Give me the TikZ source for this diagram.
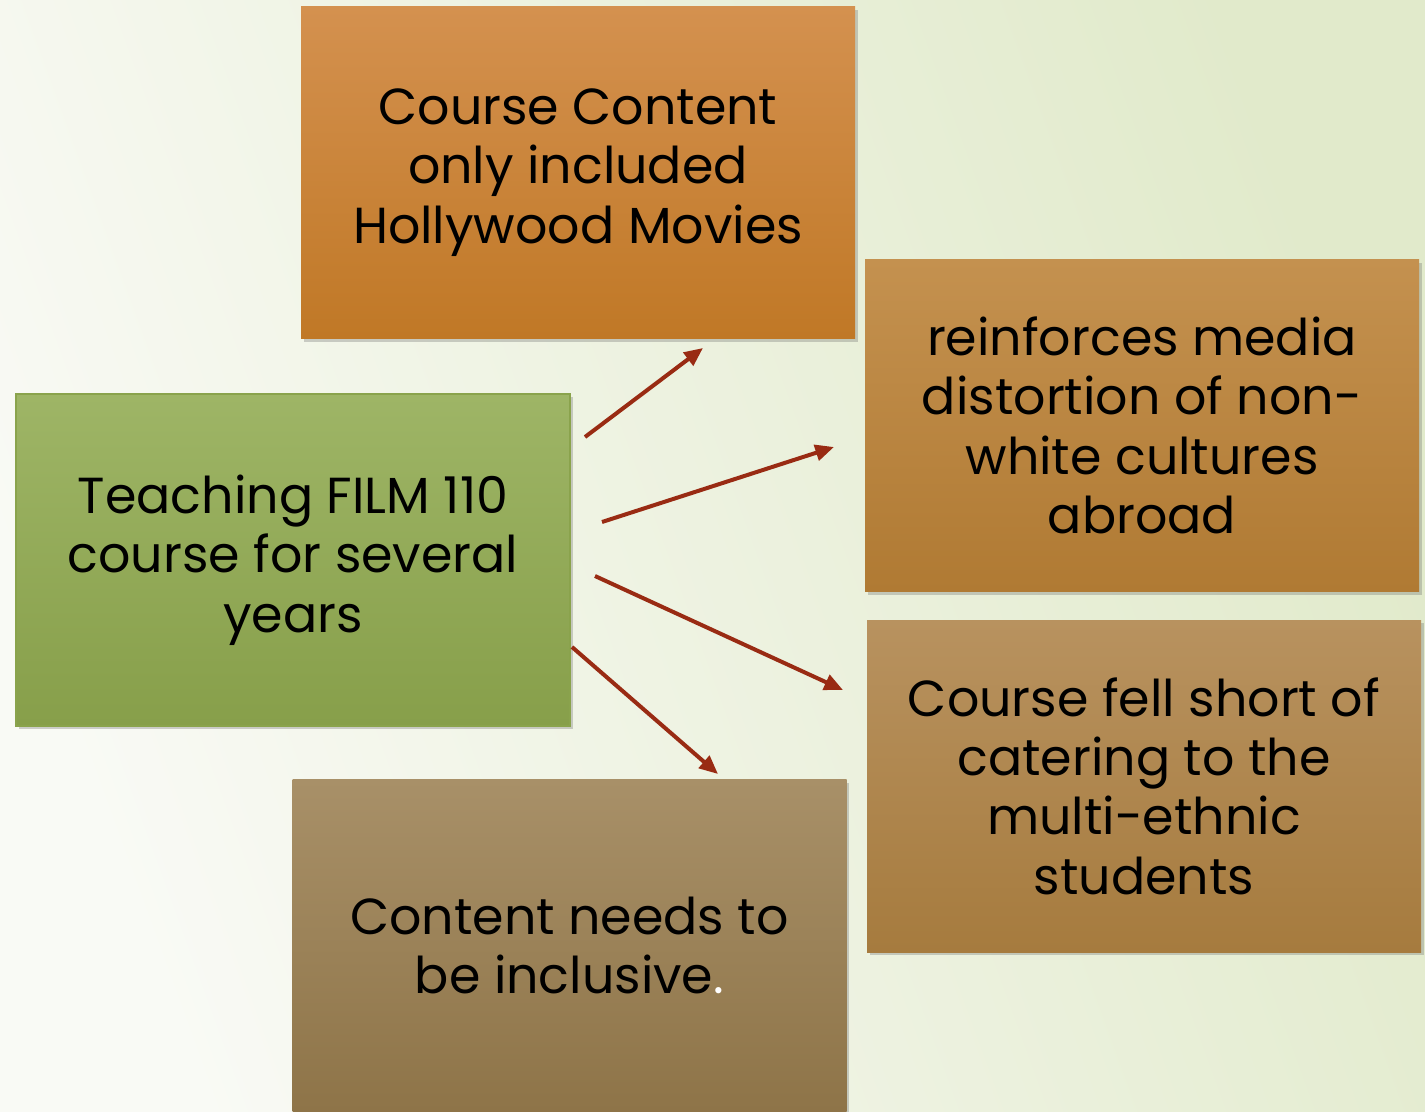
\documentclass[tikz,border=0pt]{standalone}
\usepackage{fontspec}
\setmainfont{Poppins}
\usetikzlibrary{arrows.meta,shadows}

\definecolor{bgleft}{HTML}{F9FAF5}
\definecolor{bgright}{HTML}{E1EACB}
\definecolor{arrowred}{HTML}{992B13}

\tikzset{
    card/.style={minimum width=415.5pt, minimum height=249pt, align=center,
        font=\fontsize{38}{44.5}\selectfont, text=black, inner sep=0pt,
        drop shadow={shadow xshift=2pt, shadow yshift=-2.5pt, opacity=0.3, fill=black!60}},
    arr/.style={draw=arrowred, line width=3pt, -{Triangle[length=14pt, width=12pt]}}
}

\begin{document}
\begin{tikzpicture}[x=0.75pt, y=-0.75pt]
        % Background
        \useasboundingbox (0,0) rectangle (1425,1111);
        \shade[left color=bgleft, right color=bgright, shading angle=110] (0,0) rectangle (1425,1111);

        % Boxes
        \node[card, top color={rgb,255:red,212;green,145;blue,79}, bottom color={rgb,255:red,192;green,120;blue,38}]
            (content) at (578, 172.5) {Course Content\\only included\\Hollywood Movies};
        \node[card, draw={rgb,255:red,138;green,163;blue,76}, line width=1pt,
            top color={rgb,255:red,158;green,181;blue,102}, bottom color={rgb,255:red,135;green,159;blue,74}]
            (teach) at (293, 560) {Teaching FILM 110\\course for several\\years};
        \node[card, top color={rgb,255:red,196;green,145;blue,79}, bottom color={rgb,255:red,176;green,122;blue,51}]
            (media) at (1142, 425.5) {reinforces media\\distortion of non-\\white cultures\\abroad};
        \node[card, top color={rgb,255:red,184;green,146;blue,95}, bottom color={rgb,255:red,166;green,123;blue,62}]
            (short) at (1144, 786) {Course fell short of\\catering to the\\multi-ethnic\\students};
        \node[card, top color={rgb,255:red,168;green,144;blue,104}, bottom color={rgb,255:red,142;green,116;blue,72}]
            (inclusive) at (569.5, 945.5) {Content needs to\\be inclusive\textcolor{white}{.}};

        % Arrow ends
        \coordinate (a1s) at (585, 437);
        \coordinate (a1e) at (703, 348);
        \coordinate (a2s) at (602, 522);
        \coordinate (a2e) at (834, 447);
        \coordinate (a3s) at (595, 576);
        \coordinate (a3e) at (843, 690);
        \coordinate (a4s) at (572, 647);
        \coordinate (a4e) at (718, 774);

        % Arrows
        \draw[arr] (a1s) -- (a1e);
        \draw[arr] (a2s) -- (a2e);
        \draw[arr] (a3s) -- (a3e);
        \draw[arr] (a4s) -- (a4e);

    \end{tikzpicture}
\end{document}
